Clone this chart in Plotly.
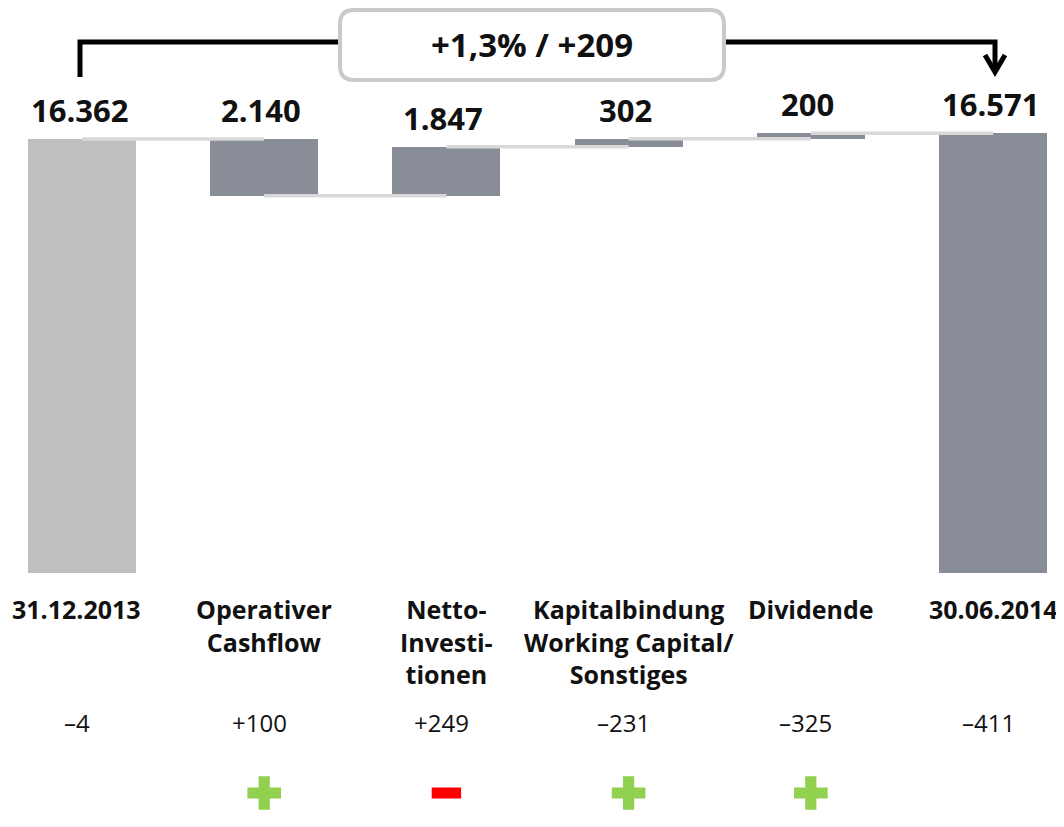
import plotly.graph_objects as go

# ---------------- data ----------------
categories = ["31.12.2013", "Operativer<br>Cashflow", "Netto-<br>Investi-<br>tionen",
              "Kapitalbindung<br>Working Capital/<br>Sonstiges", "Dividende", "30.06.2014"]
start_value = 16362
changes = [-2140, 1847, 302, 200]
end_value = 16571
value_labels = ["16.362", "2.140", "1.847", "302", "200", "16.571"]
prior_changes = ["–4", "+100", "+249", "–231", "–325", "–411"]
signs = ["", "+", "-", "+", "+", ""]
summary_text = "+1,3% / +209"

# ---------------- styling ----------------
OFF = 8  # page body margin
W, H = 1064 - OFF, 827 - OFF
DARK = "#898d98"
LIGHT = "#bfbfbf"
CONN = "#d9d9d9"
GREEN = "#92d050"
RED = "#ff0000"
FONT = "Open Sans"
SCALE = 0.02653  # px per unit
BASE_PX = 573 - OFF
CENTER0 = 82 - OFF
SPACING = 182.2

def px(x):
    return (x - OFF) / W

def py(y):
    return 1 - (y - OFF) / H

# ---------------- waterfall geometry from data ----------------
x_idx = list(range(len(categories)))
levels = [start_value]
for c in changes:
    levels.append(levels[-1] + c)

bases = [0]
heights = [start_value]
for i, c in enumerate(changes):
    prev, new = levels[i], levels[i + 1]
    bases.append(min(prev, new))
    heights.append(abs(c))
bases.append(0)
heights.append(end_value)
tops = [b + h for b, h in zip(bases, heights)]
colors = [LIGHT] + [DARK] * len(changes) + [DARK]

fig = go.Figure()
fig.add_trace(go.Bar(x=x_idx, y=heights, base=bases, width=0.593,
                     marker=dict(color=colors, line=dict(width=0)),
                     hoverinfo="skip", showlegend=False))

# connectors center-to-center at the running level
cx, cy = [], []
for i in range(len(x_idx) - 1):
    lvl = levels[min(i, len(levels) - 1)]
    cx += [x_idx[i], x_idx[i + 1], None]
    cy += [lvl, lvl, None]
fig.add_trace(go.Scatter(x=cx, y=cy, mode="lines",
                         line=dict(color=CONN, width=3.5),
                         hoverinfo="skip", showlegend=False))

# sign markers
plus_x = [x for x, s in zip(x_idx, signs) if s == "+"]
minus_x = [x for x, s in zip(x_idx, signs) if s == "-"]
sign_y = -(793 - 573) / SCALE
fig.add_trace(go.Scatter(x=plus_x, y=[sign_y] * len(plus_x), mode="markers",
                         marker=dict(symbol="cross", size=28, color=GREEN, line=dict(width=0)),
                         hoverinfo="skip", showlegend=False))
fig.add_trace(go.Scatter(x=minus_x, y=[sign_y] * len(minus_x), mode="markers",
                         marker=dict(symbol="line-ew", size=21, color=RED,
                                     line=dict(width=11, color=RED)),
                         hoverinfo="skip", showlegend=False))

annotations = []
# value labels above bars
for x, t, lab in zip(x_idx, tops, value_labels):
    annotations.append(dict(x=x, y=t, xref="x", yref="y", text=lab, showarrow=False,
                            yanchor="bottom", yshift=6, xshift=-3,
                            font=dict(family=FONT, size=31, color="#111111", weight="bold")))
# category labels
for x, cat in zip(x_idx, categories):
    annotations.append(dict(x=x, y=py(590), xref="x", yref="paper", text=cat, showarrow=False,
                            yanchor="top", align="center",
                            xshift=-6 if x == 0 else 0,
                            font=dict(family=FONT, size=25, color="#111111", weight="bold")))
# prior-year changes row
for x, t in zip(x_idx, prior_changes):
    annotations.append(dict(x=x, y=py(722), xref="x", yref="paper", text=t, showarrow=False,
                            yanchor="middle", xshift=-5,
                            font=dict(family=FONT, size=24, color="#111111")))
# summary box text
annotations.append(dict(x=px(532), y=py(45), xref="paper", yref="paper", text=summary_text,
                        showarrow=False, yanchor="middle",
                        font=dict(family=FONT, size=33, color="#111111", weight="bold")))

# rounded box
x0, x1, y0, y1, r = 340, 724, 10, 80, 14
def P(x, y):
    return f"{px(x):.5f},{py(y):.5f}"
box_path = (f"M {P(x0+r, y0)} L {P(x1-r, y0)} Q {P(x1, y0)} {P(x1, y0+r)} "
            f"L {P(x1, y1-r)} Q {P(x1, y1)} {P(x1-r, y1)} L {P(x0+r, y1)} "
            f"Q {P(x0, y1)} {P(x0, y1-r)} L {P(x0, y0+r)} Q {P(x0, y0)} {P(x0+r, y0)} Z")
bracket_left = f"M {P(80, 77)} L {P(80, 42)} L {P(340, 42)}"
bracket_right = f"M {P(724, 42)} L {P(995, 42)} L {P(995, 70)}"
arrow_head = f"M {P(985, 55)} L {P(995, 72)} L {P(1005, 55)}"

shapes = [
    dict(type="path", path=bracket_left, xref="paper", yref="paper",
         line=dict(color="black", width=5), layer="above"),
    dict(type="path", path=bracket_right, xref="paper", yref="paper",
         line=dict(color="black", width=5), layer="above"),
    dict(type="path", path=arrow_head, xref="paper", yref="paper",
         line=dict(color="black", width=5), layer="above"),
    dict(type="path", path=box_path, xref="paper", yref="paper",
         line=dict(color="#c9c9ce", width=4), fillcolor="white", layer="above"),
]

fig.update_layout(
    width=W, height=H,
    margin=dict(l=0, r=0, t=0, b=0),
    paper_bgcolor="white", plot_bgcolor="white",
    xaxis=dict(range=[-CENTER0 / SPACING, (W - CENTER0) / SPACING], visible=False, fixedrange=True),
    yaxis=dict(range=[-(H - BASE_PX) / SCALE, BASE_PX / SCALE], visible=False, fixedrange=True),
    annotations=annotations, shapes=shapes, showlegend=False,
    bargap=0,
)

fig.write_html("out.html")
